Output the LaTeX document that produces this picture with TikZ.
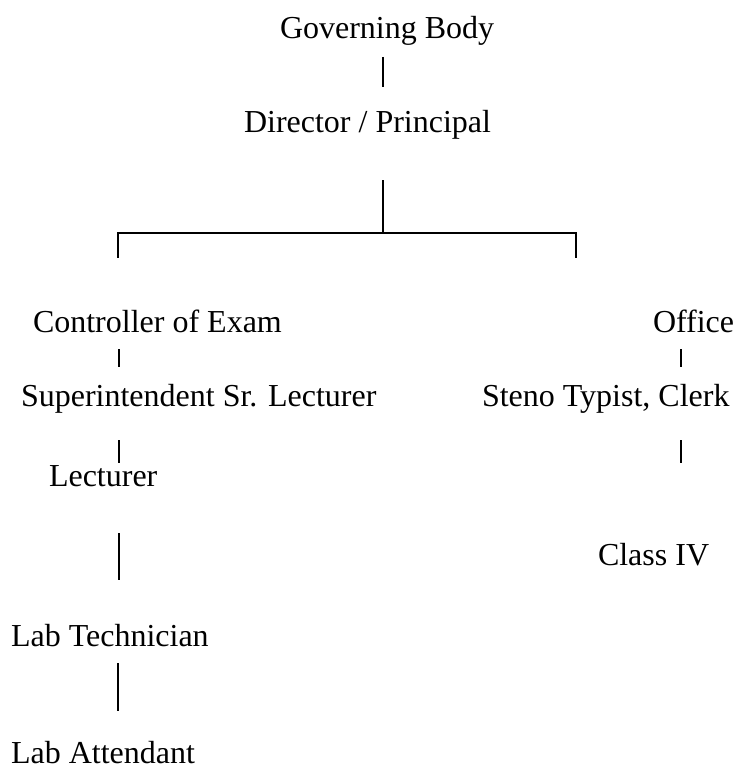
\documentclass[tikz,border=0pt]{standalone}
\usepackage{fontspec}
\setmainfont{Liberation Serif}
\begin{document}
\begin{tikzpicture}[x=1bp,y=-1bp,
  lbl/.style={anchor=base west,inner sep=0pt,outer sep=0pt,font=\fontsize{32bp}{38bp}\selectfont},
  conn/.style={line width=1.5bp,line cap=butt}]
\useasboundingbox (0,0) rectangle (738,767);
% labels
\node[lbl] (gov) at (280,39) {Governing Body};
\node[lbl] (dir) at (244,132) {Director / Principal};
\node[lbl] (coe) at (33,332) {Controller of Exam};
\node[lbl] (off) at (653,332) {Office};
\node[lbl] (sup) at (21,406) {Superintendent Sr. Lecturer};
\node[lbl] (ste) at (482,406) {Steno Typist, Clerk};
\node[lbl] (lec) at (49,486) {Lecturer};
\node[lbl] (cls) at (598,565) {Class IV};
\node[lbl] (tec) at (11,646) {Lab Technician};
\node[lbl] (att) at (11,763) {Lab Attendant};
% connector end points
\coordinate (g1) at (383,57);  \coordinate (g2) at (383,87);
\coordinate (d1) at (383,180); \coordinate (d2) at (383,233);
\coordinate (hl) at (118,233); \coordinate (hr) at (576,233);
\coordinate (hlb) at (118,257); \coordinate (hrb) at (576,257);
\coordinate (c1) at (119,349); \coordinate (c2) at (119,367);
\coordinate (o1) at (681,349); \coordinate (o2) at (681,367);
\coordinate (s1) at (119,440); \coordinate (s2) at (119,463);
\coordinate (t1) at (681,440); \coordinate (t2) at (681,463);
\coordinate (l1) at (119,533); \coordinate (l2) at (119,580);
\coordinate (b1) at (118,663); \coordinate (b2) at (118,711);
% connectors
\draw[conn] (g1) -- (g2);
\draw[conn] (d1) -- (d2);
\draw[conn,line cap=rect] (hlb) -- (hl) -- (hr) -- (hrb);
\draw[conn] (c1) -- (c2);
\draw[conn] (o1) -- (o2);
\draw[conn] (s1) -- (s2);
\draw[conn] (t1) -- (t2);
\draw[conn] (l1) -- (l2);
\draw[conn] (b1) -- (b2);
\end{tikzpicture}
\end{document}
